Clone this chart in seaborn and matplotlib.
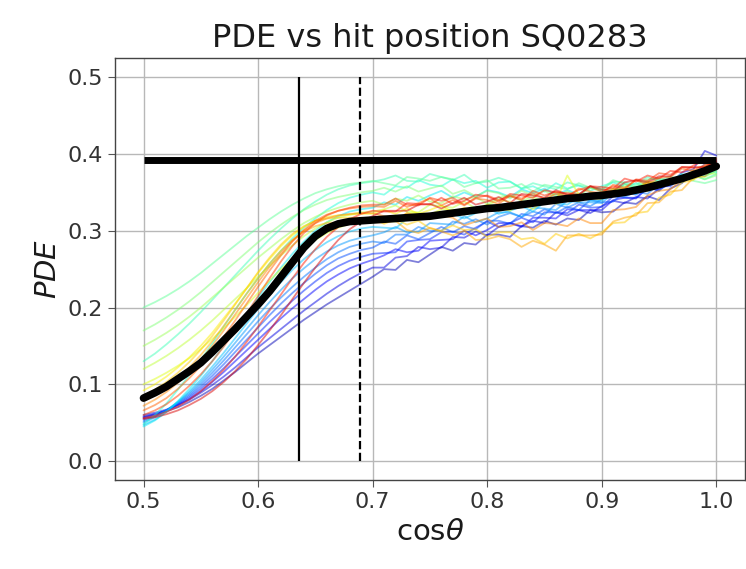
import numpy as np
import pandas as pd
import matplotlib
matplotlib.use("Agg")
import matplotlib.pyplot as plt
import seaborn as sns

# ---------------- data ----------------
cos_theta = [0.50, 0.51, 0.52, 0.53, 0.54, 0.55, 0.56, 0.57, 0.58, 0.59,
             0.60, 0.61, 0.62, 0.63, 0.64, 0.65, 0.66, 0.67, 0.68, 0.69,
             0.70, 0.71, 0.72, 0.73, 0.74, 0.75, 0.76, 0.77, 0.78, 0.79,
             0.80, 0.81, 0.82, 0.83, 0.84, 0.85, 0.86, 0.87, 0.88, 0.89,
             0.90, 0.91, 0.92, 0.93, 0.94, 0.95, 0.96, 0.97, 0.98, 0.99, 1.00]

pde_c00 = [.058,.061,.065,.070,.077,.085,.094,.105,.116,.128,.140,.151,.162,.173,.184,.194,.204,.213,.222,.231,.240,
           .250,.249,.262,.259, .269,.279,.274,.284,.282, .295,.295,.292,.306,.304, .313,.308,.316,.314,.327,
           .324,.325,.337,.335,.345, .340,.355,.362,.377,.380,.392]
pde_c01 = [.060,.063,.067,.073,.080,.089,.099,.110,.122,.135,.148,.160,.172,.184,.196,.207,.218,.228,.237,.245,.252,
           .252,.265,.267,.279, .276,.278,.292,.291,.299, .294,.305,.310,.306,.313, .310,.324,.320,.327,.323,
           .332,.339,.336,.344,.342, .355,.360,.376,.380,.404,.398]
pde_c02 = [.057,.061,.066,.073,.081,.091,.103,.116,.130,.144,.158,.172,.186,.199,.211,.223,.234,.243,.251,.257,.262,
           .268,.276,.272,.274, .287,.288,.289,.300,.294, .301,.310,.310,.305,.317, .317,.316,.328,.327,.327,
           .327,.340,.343,.342,.356, .353,.364,.364,.378,.378,.390]
pde_c03 = [.056,.060,.066,.074,.083,.094,.107,.121,.136,.151,.166,.181,.195,.209,.222,.234,.245,.254,.261,.266,.270,
           .271,.272,.286,.288, .289,.298,.299,.295,.304, .312,.305,.310,.317,.311, .324,.324,.323,.334,.330,
           .331,.345,.343,.343,.355, .358,.358,.370,.372,.387,.388]
pde_c04 = [.054,.059,.066,.075,.085,.097,.111,.126,.142,.158,.174,.190,.205,.219,.232,.244,.255,.264,.270,.275,.278,
           .286,.283,.294,.289, .297,.305,.298,.306,.302, .313,.313,.309,.322,.319, .328,.323,.331,.327,.340,
           .337,.338,.350,.347,.357, .352,.364,.366,.378,.376,.385]
pde_c05 = [.052,.058,.066,.076,.087,.100,.115,.131,.148,.165,.182,.198,.213,.227,.240,.252,.263,.272,.279,.283,.286,
           .284,.295,.295,.305, .300,.300,.312,.309,.315, .308,.318,.323,.318,.325, .321,.335,.330,.337,.332,
           .341,.348,.344,.351,.348, .361,.361,.373,.373,.383,.384]
pde_c06 = [.050,.057,.066,.077,.089,.103,.119,.136,.154,.172,.190,.207,.223,.238,.251,.263,.273,.281,.287,.291,.294,
           .298,.305,.298,.299, .310,.309,.308,.319,.311, .316,.324,.324,.318,.330, .329,.327,.339,.337,.337,
           .336,.349,.350,.349,.361, .358,.366,.363,.374,.371,.380]
pde_c07 = [.047,.054,.064,.077,.091,.106,.123,.141,.160,.179,.198,.216,.233,.249,.263,.275,.285,.293,.299,.303,.305,
           .304,.303,.316,.316, .315,.323,.322,.316,.323, .330,.322,.326,.332,.325, .337,.336,.334,.344,.339,
           .339,.352,.350,.348,.360, .362,.360,.368,.368,.379,.378]
pde_c08 = [.045,.053,.064,.078,.094,.111,.130,.150,.171,.192,.213,.233,.252,.270,.286,.300,.311,.319,.325,.328,.330,
           .337,.334,.344,.339, .346,.352,.343,.350,.344, .353,.350,.344,.354,.349, .355,.347,.353,.347,.358,
           .352,.351,.361,.356,.364, .357,.366,.366,.376,.372,.378]
pde_c09 = [.048,.060,.075,.093,.112,.132,.153,.175,.197,.218,.238,.257,.274,.290,.304,.316,.327,.336,.343,.347,.350,
           .347,.358,.356,.366, .360,.358,.367,.362,.365, .356,.363,.364,.355,.358, .351,.362,.355,.359,.352,
           .358,.363,.357,.362,.357, .368,.365,.374,.371,.378,.376]
pde_c10 = [.130,.140,.152,.165,.179,.194,.210,.226,.242,.258,.274,.289,.303,.316,.328,.338,.347,.354,.359,.362,.364,
           .367,.372,.365,.364, .374,.370,.366,.373,.362, .364,.369,.364,.355,.362, .358,.354,.363,.359,.356,
           .353,.364,.363,.360,.370, .365,.371,.365,.373,.367,.374]
pde_c11 = [.200,.207,.215,.224,.234,.245,.257,.269,.281,.293,.304,.315,.325,.334,.342,.349,.354,.358,.361,.363,.365,
           .362,.359,.370,.368, .365,.370,.367,.357,.362, .366,.355,.356,.361,.351, .360,.357,.354,.362,.356,
           .354,.366,.361,.358,.367, .368,.363,.369,.365,.362,.366]
pde_c12 = [.170,.178,.187,.197,.208,.220,.233,.246,.259,.272,.285,.297,.308,.318,.327,.334,.340,.344,.347,.350,.352,
           .356,.351,.358,.351, .355,.359,.348,.353,.345, .352,.349,.342,.352,.346, .352,.345,.351,.345,.356,
           .351,.350,.360,.356,.364, .357,.365,.364,.372,.367,.372]
pde_c13 = [.150,.158,.167,.177,.188,.200,.213,.226,.239,.252,.265,.277,.289,.300,.310,.318,.325,.330,.334,.337,.339,
           .334,.342,.339,.346, .338,.336,.345,.341,.344, .335,.343,.346,.339,.344, .338,.350,.344,.349,.343,
           .350,.355,.350,.356,.352, .363,.361,.371,.367,.375,.374]
pde_c14 = [.120,.128,.137,.147,.158,.170,.183,.197,.211,.225,.240,.254,.268,.281,.293,.303,.311,.317,.321,.324,.325,
           .328,.333,.325,.324, .334,.332,.330,.338,.329, .333,.340,.338,.331,.341, .339,.337,.347,.345,.343,
           .342,.354,.355,.353,.365, .361,.368,.364,.374,.370,.378]
pde_c15 = [.100,.107,.115,.124,.134,.146,.159,.173,.188,.203,.219,.235,.250,.264,.277,.288,.297,.304,.309,.313,.315,
           .313,.312,.323,.323, .321,.328,.327,.321,.328, .334,.326,.329,.336,.328, .340,.339,.372,.347,.342,
           .342,.355,.352,.351,.362, .364,.362,.371,.371,.383,.382]
pde_c16 = [.092,.100,.110,.122,.135,.150,.167,.186,.205,.225,.245,.263,.280,.294,.305,.313,.318,.320,.321,.322,.322,
           .327,.322,.329,.322, .327,.333,.324,.330,.324, .333,.331,.326,.338,.334, .341,.335,.342,.338,.350,
           .346,.346,.357,.354,.363, .357,.367,.369,.379,.377,.384]
pde_c17 = [.085,.093,.103,.115,.129,.145,.163,.183,.204,.225,.246,.265,.282,.296,.306,.313,.316,.317,.317,.317,.316,
           .309,.315,.308,.313, .303,.300,.307,.301,.302, .292,.298,.298,.289,.291, .283,.296,.290,.296,.290,
           .298,.310,.311,.323,.325, .343,.347,.363,.366,.380,.385]
pde_c18 = [.078,.086,.096,.108,.122,.138,.156,.176,.197,.218,.238,.257,.274,.288,.299,.306,.310,.311,.311,.311,.311,
           .311,.313,.301,.297, .304,.299,.294,.300,.288, .289,.293,.289,.279,.287, .282,.274,.294,.294,.294,
           .295,.312,.317,.320,.336, .337,.351,.353,.369,.371,.386]
pde_c19 = [.072,.080,.090,.102,.116,.132,.150,.170,.191,.212,.233,.253,.271,.287,.300,.310,.316,.320,.322,.323,.323,
           .319,.314,.323,.319, .315,.320,.317,.307,.312, .316,.305,.306,.311,.301, .310,.309,.306,.316,.310,
           .310,.327,.328,.331,.346, .352,.354,.366,.370,.385,.388]
pde_c20 = [.066,.073,.082,.094,.108,.124,.142,.162,.183,.205,.227,.248,.268,.286,.301,.313,.321,.326,.329,.331,.332,
           .331,.339,.331,.336, .342,.333,.340,.333,.342, .340,.335,.346,.342,.349, .342,.348,.344,.355,.351,
           .349,.360,.356,.366,.360, .369,.370,.381,.378,.386,.390]
pde_c21 = [.060,.066,.074,.085,.098,.113,.130,.149,.170,.192,.215,.238,.260,.280,.297,.310,.320,.326,.330,.333,.334,
           .334,.342,.334,.333, .343,.339,.343,.334,.343, .346,.340,.345,.340,.352, .346,.351,.346,.353,.358,
           .351,.358,.354,.367,.365, .375,.373,.383,.383,.383,.392]
pde_c22 = [.056,.059,.064,.071,.080,.091,.104,.119,.136,.155,.175,.196,.217,.238,.258,.276,.292,.305,.315,.322,.326,
           .325,.325,.336,.335, .334,.343,.335,.339,.347, .345,.338,.348,.346,.343, .353,.350,.349,.347,.358,
           .357,.355,.368,.364,.372, .368,.378,.376,.385,.392,.394]
pde_c23 = [.055,.057,.061,.066,.073,.081,.091,.103,.117,.133,.151,.170,.190,.211,.232,.252,.271,.288,.302,.312,.319,
           .326,.326,.326,.334, .335,.329,.336,.343,.334, .338,.344,.336,.348,.346, .343,.353,.347,.347,.358,
           .354,.352,.363,.366,.363, .371,.371,.383,.382,.383,.390]

pde_mean = [.082,.089,.097,.107,.117, .128,.142,.157,.172,.188, .204,.221,.240,.259,.278, .293,.303,.309,.312,.313,
            .314,.315,.316,.317,.318, .319,.321,.323,.325,.327, .329,.330,.332,.334,.336, .338,.340,.342,.343,.345,
            .346,.348,.350,.353,.356, .360,.364,.368,.373,.378,.384]

channel_curves = [pde_c00, pde_c01, pde_c02, pde_c03, pde_c04, pde_c05, pde_c06, pde_c07,
                  pde_c08, pde_c09, pde_c10, pde_c11, pde_c12, pde_c13, pde_c14, pde_c15,
                  pde_c16, pde_c17, pde_c18, pde_c19, pde_c20, pde_c21, pde_c22, pde_c23]

pde_reference = 0.392
cut_solid = 0.636
cut_dashed = 0.689
x_ticks = [0.5, 0.6, 0.7, 0.8, 0.9, 1.0]
x_tick_labels = ["0.5", "0.6", "0.7", "0.8", "0.9", "1.0"]
y_ticks = [0.0, 0.1, 0.2, 0.3, 0.4, 0.5]
y_tick_labels = ["0.0", "0.1", "0.2", "0.3", "0.4", "0.5"]

for k, c in enumerate(channel_curves):
    assert len(c) == len(cos_theta), (k, len(c))
assert len(pde_mean) == len(cos_theta)

# ---------------- plot ----------------
sns.set_style("ticks")
plt.rcParams['font.family'] = ['DejaVu Sans']
plt.rcParams['text.color'] = '#1a1a1a'
plt.rcParams['axes.labelcolor'] = '#1a1a1a'
plt.rcParams['xtick.color'] = '#333333'
plt.rcParams['ytick.color'] = '#333333'

rows = []
for i, curve in enumerate(channel_curves):
    for x, y in zip(cos_theta, curve):
        rows.append({"cos": x, "pde": y, "ch": i})
df = pd.DataFrame(rows)
df_mean = pd.DataFrame({"cos": cos_theta, "pde": pde_mean})

fig = plt.figure(figsize=(7.46, 5.69), dpi=100)
ax = fig.add_axes([0.154, 0.156, 0.8445, 0.742])

cmap = plt.get_cmap("jet")
palette = [cmap(v) for v in np.linspace(0.05, 0.92, len(channel_curves))]

sns.lineplot(data=df, x="cos", y="pde", hue="ch", palette=palette, estimator=None,
             legend=False, alpha=0.5, linewidth=1.3, ax=ax)
sns.lineplot(data=df_mean, x="cos", y="pde", color="black", linewidth=5.5, ax=ax, zorder=5)

ax.hlines(pde_reference, x_ticks[0], x_ticks[-1], color="black", linewidth=5, zorder=6)
ax.vlines(cut_solid, y_ticks[0], y_ticks[-1], color="black", linewidth=1.6, zorder=6)
ax.vlines(cut_dashed, y_ticks[0], y_ticks[-1], color="black", linewidth=1.6, linestyles="--", zorder=6)

ax.set_xlim(0.475, 1.025)
ax.set_ylim(-0.025, 0.525)
ax.set_xticks(x_ticks)
ax.set_xticklabels(x_tick_labels)
ax.set_yticks(y_ticks)
ax.set_yticklabels(y_tick_labels)
ax.tick_params(labelsize=16, length=5, color="#555555")
ax.grid(True, color="#b8b8b8", linewidth=1.0)
for s in ax.spines.values():
    s.set_color("#444444")
    s.set_linewidth(1.0)

ax.set_title("PDE vs hit position SQ0283", fontsize=23, pad=8)
ax.set_xlabel(r"cos$\theta$", fontsize=21)
ax.set_ylabel(r"$PDE$", fontsize=21)

fig.savefig("out.png", dpi=100, facecolor="white")
